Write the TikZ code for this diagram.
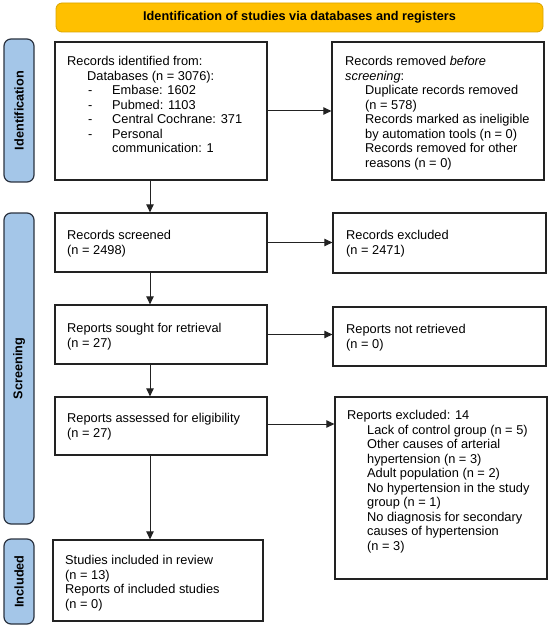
\documentclass[tikz,border=0pt]{standalone}
\usepackage{fontspec}
\setmainfont{Liberation Sans}
\usetikzlibrary{arrows.meta}
\definecolor{bannerfill}{HTML}{FFC000}
\definecolor{bannerdraw}{HTML}{D9A400}
\definecolor{sidefill}{HTML}{A4C6E8}
\definecolor{sidedraw}{HTML}{2B3340}
\definecolor{linec}{HTML}{222222}
\tikzset{
  banner/.style={draw=bannerdraw, fill=bannerfill, rounded corners=6pt, line width=0.8pt, inner sep=0pt,
    font=\fontsize{12.7}{14.5}\selectfont\bfseries},
  side/.style={draw=sidedraw, fill=sidefill, rounded corners=7pt, line width=1.2pt, inner sep=0pt, rotate=90,
    font=\fontsize{12.7}{14.5}\selectfont\bfseries},
  box/.style={draw=linec, line width=1.3pt, inner sep=0pt},
  txt/.style={inner sep=0pt, align=left, anchor=north west, font=\fontsize{12.8}{14.5}\selectfont},
  arr/.style={draw=linec, line width=1pt, -{Triangle[length=8pt,width=7.5pt]}}
}
\begin{document}
\begin{tikzpicture}[x=1pt,y=-1pt]
\useasboundingbox (0,0) rectangle (550,628);
% banner and side labels
\node[banner, minimum width=487, minimum height=29] (ban) at (299.5,17.5) {Identification of studies via databases and registers};
\node[side, minimum width=143, minimum height=30] (sid) at (19,110.5) {Identification};
\node[side, minimum width=311, minimum height=30] (sscr) at (19,368.5) {Screening};
\node[side, minimum width=85, minimum height=30] (sinc) at (19,581.5) {Included};
% boxes
\node[box, minimum width=212, minimum height=138] (b1) at (161,111) {};
\node[box, minimum width=212, minimum height=138] (b2) at (438,111) {};
\node[box, minimum width=212, minimum height=59] (b3) at (161,242.5) {};
\node[box, minimum width=213, minimum height=60] (b4) at (439.5,243) {};
\node[box, minimum width=212, minimum height=59] (b5) at (161,334.5) {};
\node[box, minimum width=213, minimum height=59] (b6) at (439.5,336.5) {};
\node[box, minimum width=212, minimum height=58] (b7) at (161,426) {};
\node[box, minimum width=212, minimum height=182] (b8) at (441,488) {};
\node[box, minimum width=210, minimum height=81] (b9) at (158,580.5) {};
% texts
\node[txt] (t1) at (67,56.3) {Records identified from:\\
\hspace*{20pt}Databases (n = 3076):\\
\hspace*{21pt}\makebox[24pt][l]{-}Embase: 1602\\
\hspace*{21pt}\makebox[24pt][l]{-}Pubmed: 1103\\
\hspace*{21pt}\makebox[24pt][l]{-}Central Cochrane: 371\\
\hspace*{21pt}\makebox[24pt][l]{-}Personal\\
\hspace*{45pt}communication: 1};
\node[txt] (t2) at (345,56.3) {Records removed \textit{before}\\
\textit{screening}:\\
\hspace*{20pt}Duplicate records removed\\
\hspace*{20pt}(n = 578)\\
\hspace*{20pt}Records marked as ineligible\\
\hspace*{20pt}by automation tools (n = 0)\\
\hspace*{20pt}Records removed for other\\
\hspace*{20pt}reasons (n = 0)};
\node[txt] (t3) at (67,230.3) {Records screened\\(n = 2498)};
\node[txt] (t4) at (346,230.3) {Records excluded\\(n = 2471)};
\node[txt] (t5) at (67,323.3) {Reports sought for retrieval\\(n = 27)};
\node[txt] (t6) at (346,324.3) {Reports not retrieved\\(n = 0)};
\node[txt] (t7) at (67,413.3) {Reports assessed for eligibility\\(n = 27)};
\node[txt] (t8) at (347,410.3) {Reports excluded: 14\\
\hspace*{20pt}Lack of control group (n = 5)\\
\hspace*{20pt}Other causes of arterial\\
\hspace*{20pt}hypertension (n = 3)\\
\hspace*{20pt}Adult population (n = 2)\\
\hspace*{20pt}No hypertension in the study\\
\hspace*{20pt}group (n = 1)\\
\hspace*{20pt}No diagnosis for secondary\\
\hspace*{20pt}causes of hypertension\\
\hspace*{20pt}(n = 3)};
\node[txt] (t9) at (65,555.3) {Studies included in review\\(n = 13)\\Reports of included studies\\(n = 0)};
% connectors
\coordinate (vx) at (150,0);
\draw[arr] (b1.south -| vx) -- (b3.north -| vx);
\draw[arr] (b3.south -| vx) -- (b5.north -| vx);
\draw[arr] (b5.south -| vx) -- (b7.north -| vx);
\draw[arr] (b7.south -| vx) -- (b9.north -| vx);
\draw[arr] (b1.east) -- (b1.east -| b2.west);
\draw[arr] (b3.east) -- (b3.east -| b4.west);
\draw[arr] (b5.east) -- (b5.east -| b6.west);
\draw[arr] ([yshift=2pt]b7.east) -- ([yshift=2pt]b7.east -| b8.west);
\end{tikzpicture}
\end{document}
